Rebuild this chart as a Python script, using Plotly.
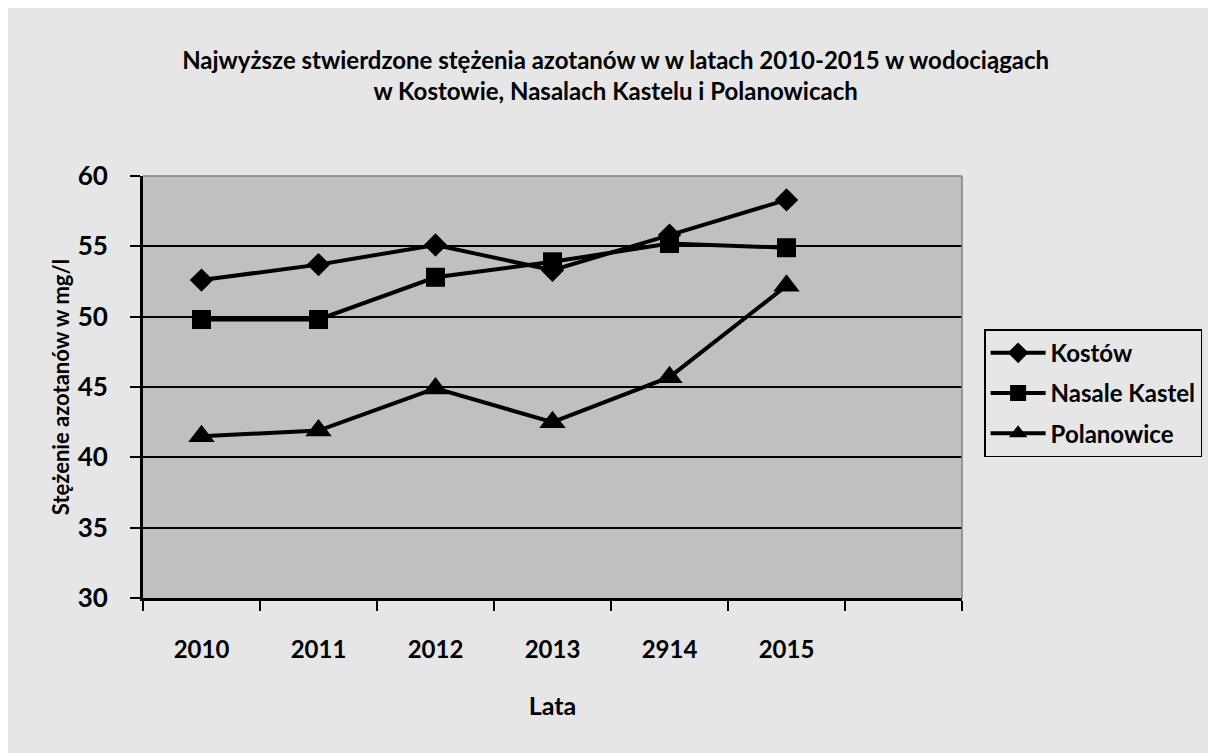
import plotly.graph_objects as go

years = ["2010", "2011", "2012", "2013", "2914", "2015"]
kostow = [52.6, 53.7, 55.1, 53.3, 55.8, 58.3]
nasale_kastel = [49.8, 49.8, 52.8, 53.9, 55.2, 54.9]
polanowice = [41.5, 41.9, 44.9, 42.5, 45.7, 52.2]

series = [
    ("Kostów", kostow, "diamond", 18),
    ("Nasale Kastel", nasale_kastel, "square", 19),
    ("Polanowice", polanowice, "triangle-up", 23),
]

FONT = "Lato"
n_slots = len(years) + 1  # chart leaves one empty category on the right
xpos = [i + 0.5 for i in range(len(years))]

fig = go.Figure()
for name, vals, sym, size in series:
    fig.add_trace(
        go.Scatter(
            x=xpos,
            y=vals,
            name=name,
            legendgroup=name,
            mode="lines+markers",
            line=dict(color="black", width=4),
            marker=dict(symbol=sym, size=size, color="black"),
        )
    )

fig.update_xaxes(
    range=[0, n_slots],
    tickvals=xpos,
    ticktext=years,
    ticks="",
    ticklabelstandoff=28,
    tickfont=dict(family=FONT, size=24, color="black", weight="bold"),
    showgrid=False,
    zeroline=False,
    showline=True,
    linecolor="black",
    linewidth=3,
    minor=dict(
        tickvals=list(range(n_slots + 1)),
        ticks="outside",
        ticklen=10,
        tickwidth=1.5,
        tickcolor="black",
        showgrid=False,
    ),
    title=dict(
        text="Lata",
        standoff=36,
        font=dict(family=FONT, size=25, color="black", weight="bold"),
    ),
)
fig.update_yaxes(
    range=[30, 60],
    tickvals=list(range(30, 61, 5)),
    ticks="outside",
    ticklen=10,
    tickwidth=1.5,
    tickcolor="black",
    ticklabelstandoff=17,
    tickfont=dict(family=FONT, size=26, color="black", weight="bold"),
    showgrid=True,
    gridcolor="black",
    gridwidth=1.5,
    zeroline=False,
    showline=True,
    linecolor="black",
    linewidth=3,
    title=dict(
        text="Stężenie azotanów w mg/l",
        standoff=2,
        font=dict(family=FONT, size=22, color="black", weight="bold"),
    ),
)

# grey frame on top and right of the plot area
fig.add_shape(type="line", xref="paper", yref="paper", x0=0, x1=1, y0=1, y1=1,
              line=dict(color="#808080", width=1.5), layer="above")
fig.add_shape(type="line", xref="paper", yref="paper", x0=1, x1=1, y0=0, y1=1,
              line=dict(color="#808080", width=1.5), layer="above")

fig.update_layout(
    width=1208,
    height=745,
    margin=dict(l=135, r=254, t=168, b=155),
    paper_bgcolor="#e6e6e6",
    plot_bgcolor="#c0c0c0",
    title=dict(
        text="Najwyższe stwierdzone stężenia azotanów w w latach 2010-2015 w wodociągach"
        "<br>w Kostowie, Nasalach Kastelu i Polanowicach",
        x=0.503,
        xanchor="center",
        y=0.918,
        yanchor="middle",
        font=dict(family=FONT, size=24, color="black", weight="bold"),
    ),
    legend=dict(
        x=1.027,
        y=0.637,
        xanchor="left",
        yanchor="top",
        bgcolor="rgba(0,0,0,0)",
        bordercolor="black",
        borderwidth=1.5,
        itemwidth=55,
        tracegroupgap=6,
        font=dict(family=FONT, size=24, color="black", weight="bold"),
    ),
    showlegend=True,
)

fig.write_html("out.html")
